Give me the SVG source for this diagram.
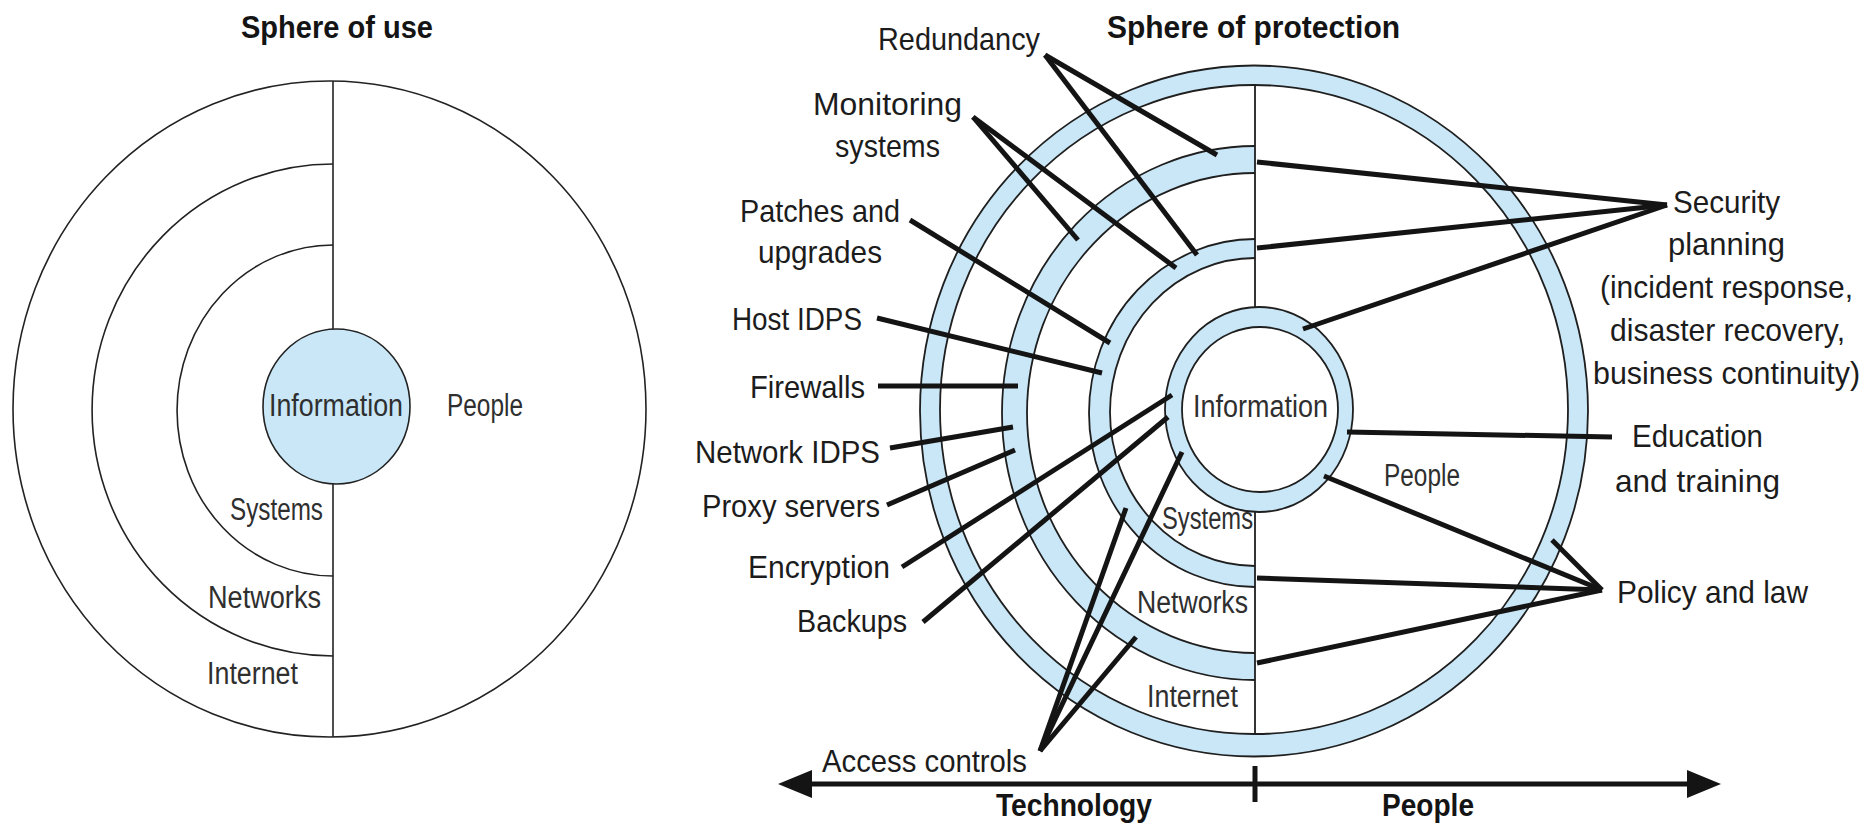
<svg xmlns="http://www.w3.org/2000/svg" width="1871" height="829" viewBox="0 0 1871 829">
  <style>
    text { font-family: "Liberation Sans", Arial, sans-serif; fill: #1c1c1c; }
    .lbl { font-size: 32px; }
    .inner { font-size: 31px; fill: #2f2f2f; }
    .title { font-size: 32px; font-weight: bold; fill: #141414; }
    .axis-lbl { font-size: 31px; font-weight: bold; fill: #141414; }
    .thin { fill: none; stroke: #222; stroke-width: 1.6; }
    .band { fill: #c9e7f7; stroke: #1f1f1f; stroke-width: 1.8; }
    .band-fill { fill: #c9e7f7; stroke: none; }
    .hole { fill: #ffffff; stroke: #1f1f1f; stroke-width: 1.8; }
    .edge { fill: none; stroke: #1f1f1f; stroke-width: 1.8; }
    .divider { stroke: #1f1f1f; stroke-width: 1.8; }
    .conn line { stroke: #141414; stroke-width: 5; stroke-linecap: butt; }
    .axis { stroke: #141414; stroke-width: 5; }
  </style>
  <defs>
    <marker id="axis-head" markerUnits="userSpaceOnUse" markerWidth="36" markerHeight="30"
            viewBox="0 0 36 30" refX="2" refY="15" orient="auto-start-reverse">
      <path d="M0,1 L34,15 L0,29 Z" fill="#141414"/>
    </marker>
  </defs>

  <rect width="1871" height="829" fill="#ffffff"/>

  <!-- Sphere of use -->
  <g id="sphere-of-use">
    <text class="title" x="241" y="38" textLength="192" lengthAdjust="spacingAndGlyphs">Sphere of use</text>
    <g id="use-internet">
      <ellipse class="thin" cx="329.5" cy="409" rx="316.5" ry="328"/>
      <text class="inner" x="207" y="684" textLength="91" lengthAdjust="spacingAndGlyphs">Internet</text>
    </g>
    <line class="thin" x1="333" y1="81" x2="333" y2="737"/>
    <g id="use-networks">
      <path class="thin" d="M333,164 A241,246 0 0 0 333,656"/>
      <text class="inner" x="208" y="608" textLength="113" lengthAdjust="spacingAndGlyphs">Networks</text>
    </g>
    <g id="use-systems">
      <path class="thin" d="M333,245 A156,165.5 0 0 0 333,576"/>
      <text class="inner" x="230" y="520" textLength="93" lengthAdjust="spacingAndGlyphs">Systems</text>
    </g>
    <g id="use-information">
      <ellipse cx="336.5" cy="406.5" rx="73.5" ry="77.5" fill="#c9e7f7" stroke="#222" stroke-width="1.6"/>
      <text class="inner" x="269" y="416" textLength="134" lengthAdjust="spacingAndGlyphs">Information</text>
    </g>
    <g id="use-people">
      <text class="inner" x="447" y="416" textLength="76" lengthAdjust="spacingAndGlyphs">People</text>
    </g>
  </g>

  <!-- Sphere of protection: rings -->
  <g id="sphere-of-protection">
    <text class="title" x="1107" y="38" textLength="293" lengthAdjust="spacingAndGlyphs">Sphere of protection</text>
    <g id="ring-internet">
      <ellipse class="band" cx="1254" cy="411" rx="334" ry="345.5"/>
      <ellipse class="hole" cx="1254" cy="409.5" rx="314" ry="324.5"/>
    </g>
    <g id="ring-networks">
      <path class="band-fill" d="M1255,146 A253,267 0 0 0 1255,680 L1255,653 A228,240 0 0 1 1255,173 Z"/>
      <path class="edge" d="M1255,146 A253,267 0 0 0 1255,680"/>
      <path class="edge" d="M1255,173 A228,240 0 0 0 1255,653"/>
    </g>
    <g id="ring-systems">
      <path class="band-fill" d="M1255,239 A166,174 0 0 0 1255,587 L1255,566 A145,154 0 0 1 1255,258 Z"/>
      <path class="edge" d="M1255,239 A166,174 0 0 0 1255,587"/>
      <path class="edge" d="M1255,258 A145,154 0 0 0 1255,566"/>
    </g>
    <line class="divider" x1="1255" y1="85" x2="1255" y2="734"/>
    <g id="ring-information">
      <ellipse class="band" cx="1259" cy="409.5" rx="94" ry="102.5"/>
      <ellipse class="hole" cx="1260" cy="409.5" rx="78" ry="82.5"/>
      <text class="inner" x="1193" y="417" textLength="135" lengthAdjust="spacingAndGlyphs">Information</text>
    </g>
    <g id="zone-labels">
      <text class="inner" x="1162" y="529" textLength="91" lengthAdjust="spacingAndGlyphs">Systems</text>
      <text class="inner" x="1137" y="613" textLength="111" lengthAdjust="spacingAndGlyphs">Networks</text>
      <text class="inner" x="1147" y="707" textLength="91" lengthAdjust="spacingAndGlyphs">Internet</text>
      <text class="inner" x="1384" y="486" textLength="76" lengthAdjust="spacingAndGlyphs">People</text>
    </g>
  </g>

  <!-- Connectors from controls to the layers they protect -->
  <g id="connectors" class="conn">
    <line x1="1045" y1="55" x2="1217" y2="155"/>
    <line x1="1045" y1="55" x2="1197" y2="255"/>
    <line x1="973" y1="117" x2="1078" y2="240"/>
    <line x1="973" y1="117" x2="1176" y2="268"/>
    <line x1="910" y1="220" x2="1110" y2="343"/>
    <line x1="877" y1="318" x2="1102" y2="373"/>
    <line x1="878" y1="386" x2="1018" y2="386"/>
    <line x1="890" y1="448" x2="1013" y2="427"/>
    <line x1="887" y1="505" x2="1015" y2="450"/>
    <line x1="902" y1="567" x2="1172" y2="395"/>
    <line x1="923" y1="622" x2="1168" y2="417"/>
    <line x1="1040" y1="751" x2="1126" y2="508"/>
    <line x1="1040" y1="751" x2="1182" y2="452"/>
    <line x1="1040" y1="751" x2="1136" y2="637"/>
    <line x1="1667" y1="205" x2="1257" y2="162"/>
    <line x1="1667" y1="205" x2="1257" y2="248"/>
    <line x1="1667" y1="205" x2="1303" y2="329"/>
    <line x1="1347" y1="432" x2="1612" y2="437"/>
    <line x1="1602" y1="590" x2="1324" y2="476"/>
    <line x1="1602" y1="590" x2="1257" y2="578"/>
    <line x1="1602" y1="590" x2="1257" y2="663"/>
    <line x1="1602" y1="590" x2="1552" y2="540"/>
  </g>

  <!-- Technology controls -->
  <g id="lbl-redundancy"><text class="lbl" x="878" y="50" textLength="162" lengthAdjust="spacingAndGlyphs">Redundancy</text></g>
  <g id="lbl-monitoring">
    <text class="lbl" x="813" y="115" textLength="149" lengthAdjust="spacingAndGlyphs">Monitoring</text>
    <text class="lbl" x="835" y="157" textLength="105" lengthAdjust="spacingAndGlyphs">systems</text>
  </g>
  <g id="lbl-patches">
    <text class="lbl" x="740" y="222" textLength="160" lengthAdjust="spacingAndGlyphs">Patches and</text>
    <text class="lbl" x="758" y="263" textLength="124" lengthAdjust="spacingAndGlyphs">upgrades</text>
  </g>
  <g id="lbl-host-idps"><text class="lbl" x="732" y="330" textLength="130" lengthAdjust="spacingAndGlyphs">Host IDPS</text></g>
  <g id="lbl-firewalls"><text class="lbl" x="750" y="398" textLength="115" lengthAdjust="spacingAndGlyphs">Firewalls</text></g>
  <g id="lbl-network-idps"><text class="lbl" x="695" y="463" textLength="185" lengthAdjust="spacingAndGlyphs">Network IDPS</text></g>
  <g id="lbl-proxy"><text class="lbl" x="702" y="517" textLength="178" lengthAdjust="spacingAndGlyphs">Proxy servers</text></g>
  <g id="lbl-encryption"><text class="lbl" x="748" y="578" textLength="142" lengthAdjust="spacingAndGlyphs">Encryption</text></g>
  <g id="lbl-backups"><text class="lbl" x="797" y="632" textLength="110" lengthAdjust="spacingAndGlyphs">Backups</text></g>
  <g id="lbl-access"><text class="lbl" x="822" y="772" textLength="205" lengthAdjust="spacingAndGlyphs">Access controls</text></g>

  <!-- People controls -->
  <g id="lbl-security-planning">
    <text class="lbl" x="1673" y="213" textLength="107" lengthAdjust="spacingAndGlyphs">Security</text>
    <text class="lbl" x="1668" y="255" textLength="117" lengthAdjust="spacingAndGlyphs">planning</text>
    <text class="lbl" x="1600" y="298" textLength="253" lengthAdjust="spacingAndGlyphs">(incident response,</text>
    <text class="lbl" x="1610" y="341" textLength="235" lengthAdjust="spacingAndGlyphs">disaster recovery,</text>
    <text class="lbl" x="1593" y="384" textLength="267" lengthAdjust="spacingAndGlyphs">business continuity)</text>
  </g>
  <g id="lbl-education">
    <text class="lbl" x="1632" y="447" textLength="131" lengthAdjust="spacingAndGlyphs">Education</text>
    <text class="lbl" x="1615" y="492" textLength="165" lengthAdjust="spacingAndGlyphs">and training</text>
  </g>
  <g id="lbl-policy"><text class="lbl" x="1617" y="603" textLength="191" lengthAdjust="spacingAndGlyphs">Policy and law</text></g>

  <!-- Technology / People axis -->
  <g id="axis">
    <line class="axis" x1="810" y1="784" x2="1689" y2="784" marker-start="url(#axis-head)" marker-end="url(#axis-head)"/>
    <line class="axis" x1="1255" y1="766" x2="1255" y2="802"/>
    <text class="axis-lbl" x="996" y="816" textLength="156" lengthAdjust="spacingAndGlyphs">Technology</text>
    <text class="axis-lbl" x="1382" y="816" textLength="92" lengthAdjust="spacingAndGlyphs">People</text>
  </g>
</svg>
